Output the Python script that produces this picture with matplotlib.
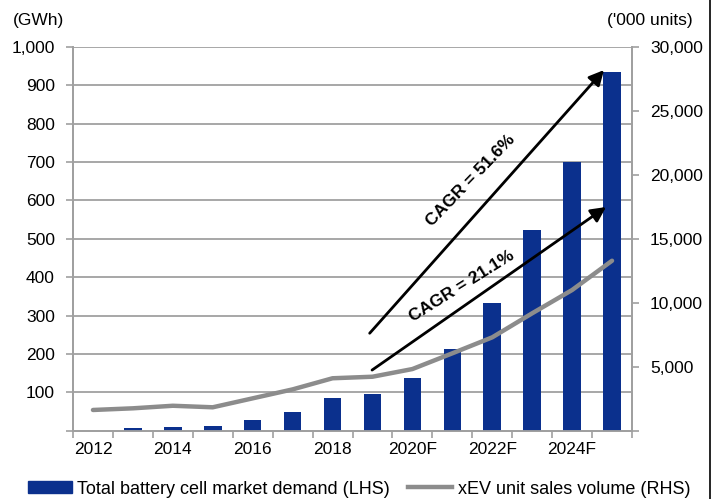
import matplotlib
matplotlib.use("Agg")
import matplotlib.pyplot as plt
from matplotlib.lines import Line2D
from matplotlib.patches import Patch

plt.rcParams['font.family'] = ['Liberation Sans', 'DejaVu Sans']

years = ["2012", "2013", "2014", "2015", "2016", "2017", "2018", "2019",
         "2020F", "2021F", "2022F", "2023F", "2024F", "2025F"]
battery_gwh = [0, 8, 10, 11, 27, 48, 85, 96, 138, 214, 334, 522, 699, 935]
xev_units = [1620, 1750, 1950, 1830, 2530, 3230, 4100, 4220, 4820, 6050,
             7300, 9180, 11000, 13290]
left_ticks = [0, 100, 200, 300, 400, 500, 600, 700, 800, 900, 1000]
left_labels = ["", "100", "200", "300", "400", "500", "600", "700", "800", "900", "1,000"]
right_ticks = [0, 5000, 10000, 15000, 20000, 25000, 30000]
right_labels = ["", "5,000", "10,000", "15,000", "20,000", "25,000", "30,000"]
cagr_battery = "CAGR = 51.6%"
cagr_xev = "CAGR = 21.1%"

BLUE = "#0b308d"
GRAY = "#8c8c8c"
AX_GRAY = "#a0a0a0"
FS = 12

fig = plt.figure(figsize=(7.18, 4.99), dpi=100)
ax = fig.add_axes([73 / 718, 1 - 430.7 / 499, (632 - 73) / 718, (430.7 - 47) / 499])
ax2 = ax.twinx()

x = list(range(len(years)))
ax.bar(x, battery_gwh, width=0.44, color=BLUE, zorder=3)
ax.set_xlim(-0.5, len(years) - 0.5)
ax.set_ylim(0, 1000)
ax.set_yticks(left_ticks)
ax.set_yticklabels(left_labels)
ax.grid(axis="y", color=AX_GRAY, linewidth=1.3, zorder=0)
ax.set_axisbelow(True)

# x labels every second year, ticks between categories
ax.set_xticks([i for i in x if i % 2 == 0])
ax.set_xticklabels([years[i] for i in x if i % 2 == 0])
ax.set_xticks([i - 0.5 for i in range(len(years) + 1)], minor=True)
ax.tick_params(axis="x", which="major", length=0, pad=8, labelsize=FS + 0.5)
ax.tick_params(axis="x", which="minor", length=5, color=AX_GRAY, width=1.2)
ax.tick_params(axis="y", length=5, color=AX_GRAY, width=1.2, labelsize=FS + 0.5, pad=8)

ax2.plot(x, xev_units, color=GRAY, linewidth=3.2, solid_capstyle="round", zorder=4)
ax2.set_ylim(0, 30000)
ax2.set_yticks(right_ticks)
ax2.set_yticklabels(right_labels)
ax2.tick_params(axis="y", length=5, color=AX_GRAY, width=1.2, labelsize=FS + 0.5, pad=8)

for a in (ax, ax2):
    a.spines["top"].set_visible(False)
    for s in ("left", "right", "bottom"):
        a.spines[s].set_color(AX_GRAY)
        a.spines[s].set_linewidth(1.3)

# growth arrows with CAGR labels
arrow_kw = dict(arrowstyle="-|>,head_length=0.9,head_width=0.45", color="black",
                linewidth=2.0, shrinkA=0, shrinkB=0)
ax.annotate("", xy=(12.8, 940), xytext=(6.93, 254), arrowprops=arrow_kw, zorder=6)
ax.annotate("", xy=(12.85, 583), xytext=(6.99, 158), arrowprops=arrow_kw, zorder=6)
ax.text(9.47, 653, cagr_battery, rotation=46, fontsize=12.5, fontweight="bold",
        ha="center", va="center", rotation_mode="anchor", zorder=7)
ax.text(9.25, 376, cagr_xev, rotation=32, fontsize=12.5, fontweight="bold",
        ha="center", va="center", rotation_mode="anchor", zorder=7)

fig.text(13 / 718, 1 - 20 / 499, "(GWh)", fontsize=FS + 0.5, ha="left", va="center")
fig.text(693 / 718, 1 - 20 / 499, "('000 units)", fontsize=FS + 0.5, ha="right", va="center")

handles = [Patch(facecolor=BLUE, edgecolor=BLUE),
           Line2D([0], [0], color=GRAY, linewidth=3.2)]
labels = ["Total battery cell market demand (LHS)", "xEV unit sales volume (RHS)"]
fig.legend(handles, labels, loc="center", bbox_to_anchor=(0.5, 1 - 489 / 499),
           ncol=2, frameon=False, fontsize=13, handlelength=2.45, handleheight=0.6,
           handletextpad=0.3, columnspacing=1.0, borderpad=0, borderaxespad=0)

fig.add_artist(Line2D([710 / 718, 710 / 718], [0, 1], color="black", linewidth=1.2))

fig.savefig("out.png", dpi=100)
